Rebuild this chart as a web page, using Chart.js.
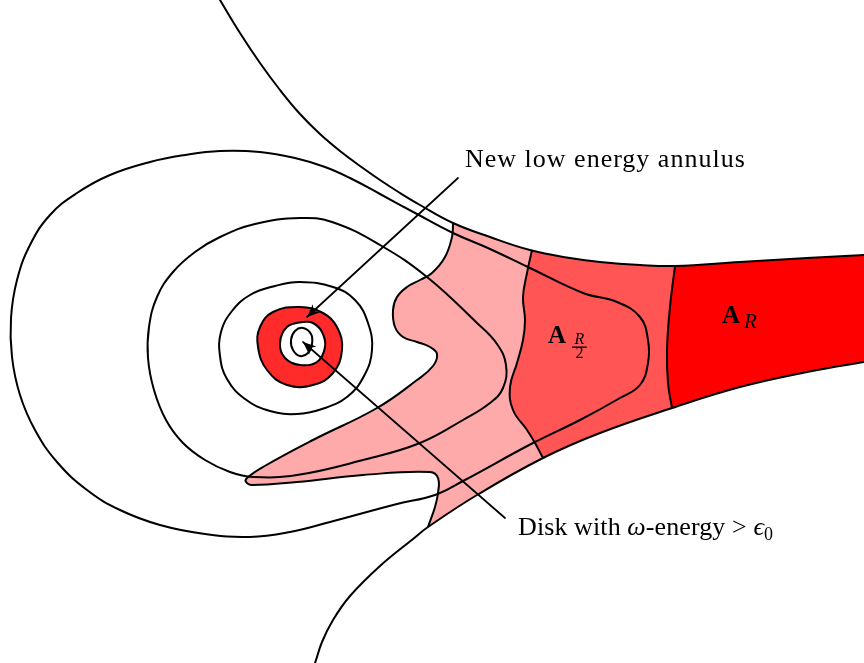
<!DOCTYPE html>
<html><head><meta charset="utf-8">
<script src="https://cdn.jsdelivr.net/npm/chart.js@4.4.1/dist/chart.umd.min.js"></script>
<style>html,body{margin:0;padding:0;background:#fff;overflow:hidden}#wrap{width:864px;height:663px;position:relative}</style>
</head><body><div id="wrap"><canvas id="c"></canvas></div>
<script>
// ---- data (diagram coordinates, x to the right, y downward) ----
const upperEdge = [[213,-12],[220,0],[240,33],[260,63],[280,90],[300,114],[320,134],[340,151],[360,166],[380,180],[400,193],[420,205],[453,223],[490,237],[530,250],[570,258],[600,262],[640,265],[675,266],[740,262],[807,258],[864,255],[950,250]];
const lowerEdge = [[308,680],[315,663],[322,642],[333,620],[350,596],[380,566],[413,539],[428,527],[477,495],[543,458],[600,433],[672,408],[740,387],[807,372],[864,362],[950,348]];
const pinkEdge = [[454,210],[453,225],[452,237],[445,257],[432,273],[420,280],[407,287],[397,297],[393,310],[395,327],[403,337],[417,342],[430,347],[437,354],[433,366],[417,380],[377,408],[313,440],[263,467],[247,478],[246,482],[252,485],[297,482],[363,475],[430,472],[438,478],[438,493],[435,507],[428,527],[424,540]];
const halfEdge = [[535,236],[532,250],[527,273],[523,297],[525,320],[523,340],[517,363],[510,387],[513,410],[527,430],[535,443],[543,458],[551,472]];
const fullEdge = [[677,250],[675,266],[670,307],[667,350],[668,383],[672,408],[675,425]];
const loop5 = [[150,162],[185,155],[220,151],[260,152],[295,158],[325,167],[350,178],[380,194],[417,214],[453,233],[490,249],[530,268],[583,293],[617,302],[640,317],[648,340],[648,363],[640,385],[620,398],[580,420],[533,443],[463,481],[435,495],[397,504],[330,522],[290,532],[250,537],[205,534],[160,525],[120,510],[87,490],[57,462],[35,430],[20,395],[12,357],[11,318],[17,280],[30,245],[50,215],[77,193],[110,175]];
const loop4 = [[300,218],[332,222],[380,245],[427,277],[477,323],[497,344],[506,365],[503,388],[490,403],[463,420],[420,443],[363,460],[297,475],[253,477],[230,472],[205,460],[183,443],[166,420],[154,390],[148,358],[149,327],[157,297],[173,272],[195,252],[220,237],[255,224]];
const loop3 = [[300,282],[275,286],[250,295],[232,311],[221,332],[220,356],[227,379],[245,399],[270,411],[297,414],[322,409],[347,397],[364,376],[372,350],[368,323],[355,300],[333,287]];
const annulusOuter = [[300,307],[273,312],[260,327],[258,347],[267,370],[287,385],[313,385],[333,373],[342,350],[337,327],[323,313]];
const annulusInner = [[303,322],[287,327],[280,343],[285,358],[300,365],[317,362],[325,347],[322,332],[313,323]];
const diskLoop = [[303,328],[295,331],[291,340],[293,350],[300,356],[308,353],[312,344],[311,334]];
const arrowNew = [[458,178],[307,317]];
const arrowDisk = [[505,518],[303,342]];
// far-away corner points used to close the filled regions outside the view
const farTop = -60, farBottom = 700, farLeft = -60, farRight = 950;

const labelNew = "New low energy annulus";
const labelDisk = ["Disk with ", "ω", "-energy > ", "ϵ", "0"];
const labelHalf = ["A", "R", "2"];
const labelFull = ["A", "R"];

// ---- helpers ----
const P = pts => pts.map(p => ({x:p[0], y:p[1]}));
const BLACK = '#000';
const LW = 2;
const TENSION = 0.42;
const datasets = [];
function add(ds){ datasets.push(Object.assign({pointRadius:0, tension:TENSION, borderWidth:0, borderColor:'rgba(0,0,0,0)', fill:false}, ds)); }
function region(pts, color){ add({data:P(pts), fill:'shape', backgroundColor:color}); }
function line(pts, w){ add({data:P(pts), borderColor:BLACK, borderWidth:w||LW}); }
function loop(pts, fillColor){
  const n = pts.length;
  const wrapped = [pts[n-1], ...pts, pts[0], pts[1]];
  add({data:P(wrapped), borderColor:BLACK, borderWidth:LW,
       fill: fillColor ? 'shape' : false, backgroundColor: fillColor || 'rgba(0,0,0,0)',
       segment:{borderColor: c => (c.p0DataIndex===0 || c.p0DataIndex===n+1) ? 'rgba(0,0,0,0)' : undefined}});
}

// ---- layers, bottom to top ----
region([...upperEdge, ...lowerEdge.slice().reverse(), [farLeft,farBottom],[farLeft,farTop]], '#FFAAAA');
region([...halfEdge, [farRight,480],[farRight,200]], '#FF5555');
region([...fullEdge, [farRight,430],[farRight,240]], '#FF0000');
line(halfEdge);
line(fullEdge);
region([...pinkEdge, [415,farBottom],[farLeft,farBottom],[farLeft,farTop],[458,farTop]], '#FFFFFF');
line(pinkEdge);
region([...upperEdge, [farRight,farTop],[200,farTop]], '#FFFFFF');
region([...lowerEdge, [farRight,farBottom],[300,farBottom]], '#FFFFFF');
line(upperEdge);
line(lowerEdge);
loop(loop5);
loop(loop4);
loop(loop3);
loop(annulusOuter, '#FF2A2A');
loop(annulusInner, '#FFFFFF');
loop(diskLoop);
add({data:P(arrowNew), borderColor:BLACK, borderWidth:1.7, tension:0});
add({data:P(arrowDisk), borderColor:BLACK, borderWidth:1.7, tension:0});
const N = datasets.length;
datasets.forEach((d,i)=>{ d.order = N - i; });

// ---- annotation plugin: arrow heads and labels ----
const SERIF = '"Liberation Serif", "Times New Roman", serif';
function runs(ctx, x, y, parts){
  let cx = x;
  for (const p of parts){
    ctx.font = p.f; ctx.fillText(p.t, cx, y + (p.dy||0));
    cx += ctx.measureText(p.t).width + (p.gap||0);
  }
  return cx;
}
const annot = {
  id:'annot',
  afterDatasetsDraw(chart){
    const {ctx} = chart; const sx = chart.scales.x, sy = chart.scales.y;
    const px = p => [sx.getPixelForValue(p[0]), sy.getPixelForValue(p[1])];
    ctx.save();
    ctx.fillStyle = '#000';
    for (const a of [arrowNew, arrowDisk]){
      const [x0,y0] = px(a[0]); const [x1,y1] = px(a[1]);
      const ang = Math.atan2(y1-y0, x1-x0);
      const L = 13, W = 5.5, Nn = 9;
      const c = Math.cos(ang), s = Math.sin(ang);
      ctx.beginPath();
      ctx.moveTo(x1, y1);
      ctx.lineTo(x1 - L*c + W*s, y1 - L*s - W*c);
      ctx.lineTo(x1 - Nn*c, y1 - Nn*s);
      ctx.lineTo(x1 - L*c - W*s, y1 - L*s + W*c);
      ctx.closePath(); ctx.fill();
    }
    ctx.textBaseline = 'alphabetic'; ctx.textAlign = 'left';
    try { ctx.letterSpacing = '1px'; } catch(e){}
    const [nx, ny] = px([465,167]);
    ctx.font = '26px ' + SERIF; ctx.fillText(labelNew, nx, ny);
    try { ctx.letterSpacing = '0.1px'; } catch(e){}
    const [dx, dy] = px([518,535]);
    runs(ctx, dx, dy, [
      {t:labelDisk[0], f:'26px '+SERIF},
      {t:labelDisk[1], f:'italic 26px '+SERIF},
      {t:labelDisk[2], f:'26px '+SERIF},
      {t:labelDisk[3], f:'italic 26px '+SERIF},
      {t:labelDisk[4], f:'18px '+SERIF, dy:5}
    ]);
    try { ctx.letterSpacing = '0px'; } catch(e){}
    // A_{R/2}
    const [hx, hy] = px([548,343]);
    ctx.font = 'bold 25px ' + SERIF; ctx.fillText(labelHalf[0], hx, hy);
    const fx = hx + ctx.measureText(labelHalf[0]).width + 6;
    ctx.font = 'italic 16px ' + SERIF; const rw = ctx.measureText(labelHalf[1]).width;
    ctx.font = '16px ' + SERIF; const tw = ctx.measureText(labelHalf[2]).width;
    const bw = Math.max(rw, tw) + 5;
    ctx.font = 'italic 16px ' + SERIF; ctx.fillText(labelHalf[1], fx + (bw-rw)/2, hy + 1);
    ctx.fillRect(fx, hy + 3.5, bw, 1.3);
    ctx.font = '16px ' + SERIF; ctx.fillText(labelHalf[2], fx + (bw-tw)/2, hy + 15);
    // A_R
    const [ax, ay] = px([722,323]);
    ctx.font = 'bold 25px ' + SERIF; ctx.fillText(labelFull[0], ax, ay);
    const rx = ax + ctx.measureText(labelFull[0]).width + 4;
    ctx.font = 'italic 21px ' + SERIF; ctx.fillText(labelFull[1], rx, ay + 5);
    ctx.restore();
  }
};

new Chart(document.getElementById('c'), {
  type:'line',
  data:{datasets},
  options:{
    responsive:true, maintainAspectRatio:false, animation:false, events:[],
    layout:{padding:0},
    plugins:{legend:{display:false}, tooltip:{enabled:false}, title:{display:false}},
    elements:{point:{radius:0, hoverRadius:0}, line:{capBezierPoints:false, borderCapStyle:'round', borderJoinStyle:'round'}},
    scales:{
      x:{type:'linear', min:0, max:864, display:false},
      y:{type:'linear', min:0, max:663, reverse:true, display:false}
    }
  },
  plugins:[annot]
});
</script>
</body></html>
